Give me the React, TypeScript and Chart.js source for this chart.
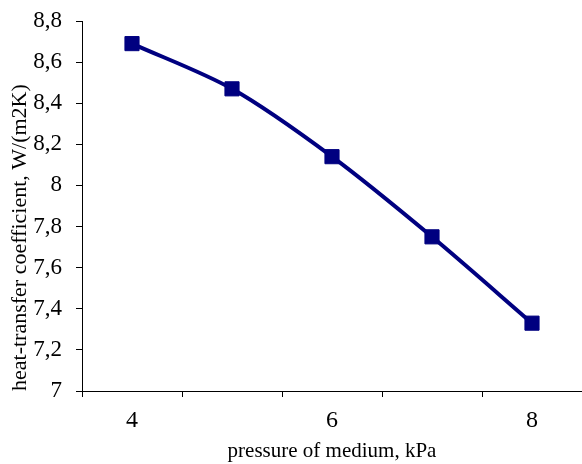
import React, { useEffect, useRef } from "react";
import { Chart, registerables } from "chart.js";

Chart.register(...registerables);

// Pressure of the medium (kPa) and the matching heat-transfer coefficient
const pressureLabels: string[] = ["4", "5", "6", "7", "8"];
const heatTransfer: number[] = [8.69, 8.47, 8.14, 7.75, 7.33];
const yMin = 7;
const yMax = 8.8;
const yStep = 0.2;

const serif = '"Liberation Serif", "Times New Roman", serif';
const navy = "#000080";

function formatComma(v: number): string {
  if (Math.abs(v - Math.round(v)) < 1e-9) return String(Math.round(v));
  return v.toFixed(1).replace(".", ",");
}

export default function App() {
  const canvasRef = useRef<HTMLCanvasElement | null>(null);

  useEffect(() => {
    if (!canvasRef.current) return;
    const chart = new Chart(canvasRef.current, {
      type: "line",
      data: {
        labels: pressureLabels,
        datasets: [
          {
            data: heatTransfer,
            borderColor: navy,
            backgroundColor: navy,
            borderWidth: 4,
            tension: 0.3,
            pointStyle: "rect",
            pointRadius: 10,
            pointBorderWidth: 1,
            pointBackgroundColor: navy,
            pointBorderColor: navy,
            fill: false,
          },
        ],
      },
      options: {
        responsive: false,
        animation: false,
        layout: { autoPadding: false, padding: { top: 21, right: 0, left: 0, bottom: 0 } },
        plugins: {
          legend: { display: false },
          tooltip: { enabled: false },
        },
        scales: {
          x: {
            type: "category",
            offset: true,
            afterFit: (s: any) => {
              s.height = 73;
              s.paddingLeft = 0;
              s.paddingRight = 0;
            },
            border: { color: "#000", width: 1 },
            grid: {
              offset: true,
              drawOnChartArea: false,
              drawTicks: true,
              tickLength: 6,
              tickColor: "#000",
              tickWidth: 1,
            },
            ticks: {
              autoSkip: false,
              maxRotation: 0,
              padding: 9,
              color: "#000",
              font: { family: serif, size: 24, lineHeight: 1.2 },
              callback: (_v: any, i: number) =>
                i % 2 === 0 ? pressureLabels[i] : "",
            },
            title: {
              display: true,
              text: "pressure of medium, kPa",
              color: "#000",
              font: { family: serif, size: 21, lineHeight: 1.2 },
              padding: { top: 5, bottom: 0 },
            },
          },
          y: {
            min: yMin,
            max: yMax,
            afterFit: (s: any) => {
              s.width = 82;
              s.paddingTop = 0;
              s.paddingBottom = 0;
            },
            border: { color: "#000", width: 1 },
            grid: {
              drawOnChartArea: false,
              drawTicks: true,
              tickLength: 6,
              tickColor: "#000",
              tickWidth: 1,
            },
            ticks: {
              stepSize: yStep,
              padding: 14,
              color: "#000",
              font: { family: serif, size: 23, lineHeight: 1.2 },
              callback: (v: any) => formatComma(Number(v)),
            },
            title: {
              display: true,
              align: "start",
              text: "heat-transfer coefficient, W/(m2K)",
              color: "#000",
              font: { family: serif, size: 22, lineHeight: 1.2 },
              padding: { top: 7, bottom: 0 },
            },
          },
        },
      },
    } as any);
    return () => chart.destroy();
  }, []);

  return (
    <div style={{ position: "absolute", left: 0, top: 0, width: 582, height: 464, background: "#fff" }}>
      <canvas ref={canvasRef} width={582} height={464} />
    </div>
  );
}
